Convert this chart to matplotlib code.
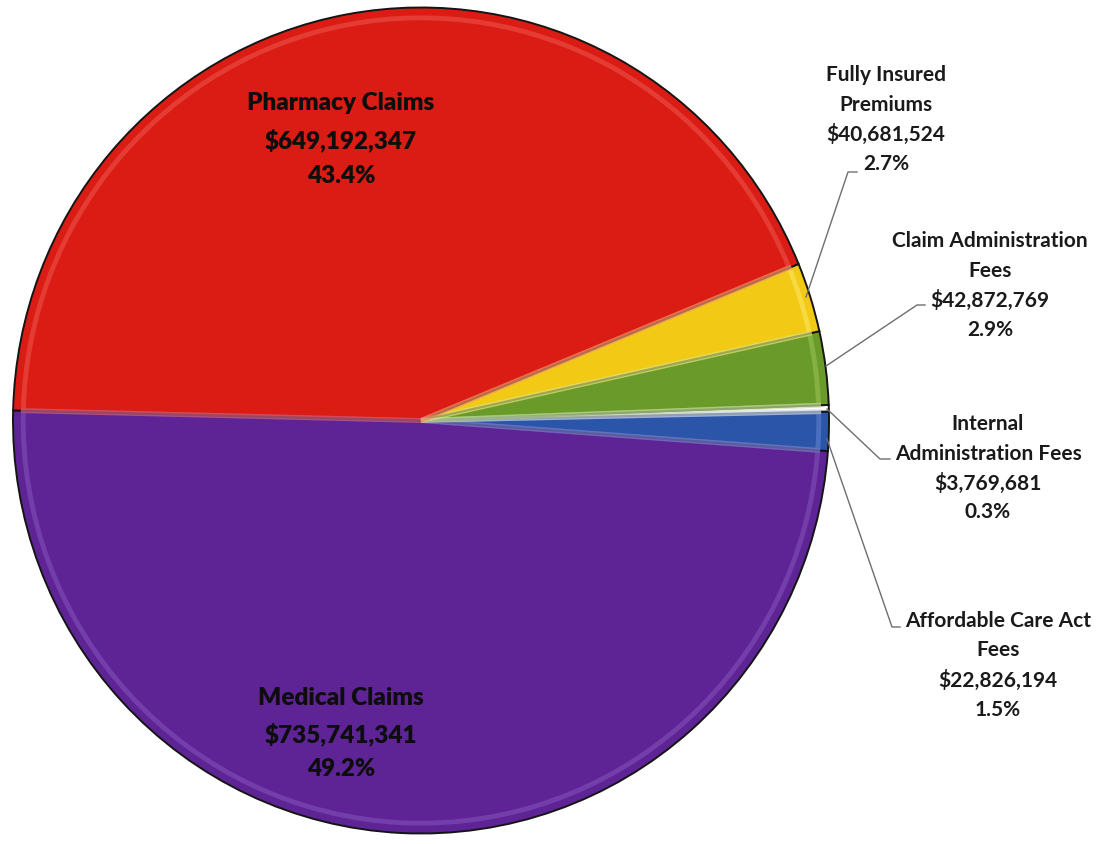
import matplotlib

matplotlib.use("Agg")

import matplotlib.pyplot as plt

# Spending breakdown (dollars), counter-clockwise from the left edge
CATEGORIES = [
    "Medical Claims",
    "Affordable Care Act\nFees",
    "Internal\nAdministration Fees",
    "Claim Administration\nFees",
    "Fully Insured\nPremiums",
    "Pharmacy Claims",
]
AMOUNTS = [735741341, 22826194, 3769681, 42872769, 40681524, 649192347]
COLORS = ["#5E2496", "#2A55A8", "#FFFFFF", "#6A9A2A", "#F2C914", "#DA1C14"]
HIGHLIGHTS = ["#8E5CC4", "#6E92D8", "#FFFFFF", "#A6CF62", "#FFF07A", "#F2625A"]

# Figure in pixel units so the pie and labels can be laid out directly
W, H = 1107, 845
CX, CY, RX, RY = 421, 421.5, 408, 413
START = 178.6


def px(x, y):
    return (x - CX) / RX, (CY - y) / RY


fig = plt.figure(figsize=(W / 100, H / 100), dpi=100)
fig.patch.set_facecolor("white")
ax = fig.add_axes([0, 0, 1, 1])

total = sum(AMOUNTS)
wedges, _ = ax.pie(
    AMOUNTS,
    colors=COLORS,
    startangle=START,
    counterclock=True,
    radius=1.0,
    wedgeprops=dict(edgecolor="#151515", linewidth=1.4),
)
# lighter bevel stroke just inside every slice
bevel, _ = ax.pie(
    AMOUNTS,
    colors=["none"] * len(AMOUNTS),
    startangle=START,
    counterclock=True,
    radius=0.975,
    wedgeprops=dict(linewidth=3.5, alpha=0.45),
)
for b, hc in zip(bevel, HIGHLIGHTS):
    b.set_edgecolor(hc)
    b.set_facecolor("none")

ax.set_aspect("auto")
ax.set_xlim(-CX / RX, (W - CX) / RX)
ax.set_ylim((CY - H) / RY, CY / RY)
ax.axis("off")


def money(v):
    return f"${v:,.0f}"


def pct(v):
    return f"{v / total * 100:.1f}%"


# labels inside the two big slices
inside = {5: (341, [103, 140, 176]), 0: (341, [698, 734, 769])}
for i, (x, ys) in inside.items():
    lines = [CATEGORIES[i], money(AMOUNTS[i]), pct(AMOUNTS[i])]
    for line, y in zip(lines, ys):
        ax.text(*px(x, y), line, ha="center", va="center", fontsize=17.5,
                fontweight="heavy", family="Lato", color="#0d0d0d")

# outside labels with leader lines
outside = {
    4: (886, 75, [(857, 173), (848, 173), (806, 298)]),
    3: (990, 241, [(925, 306), (917, 306), (826, 367)]),
    2: (988, 424, [(890, 460), (880, 460), (827, 410)]),
    1: (998, 621, [(900, 628), (892, 628), (827, 440)]),
}
for i, (x, y0, path) in outside.items():
    lines = CATEGORIES[i].split("\n") + [money(AMOUNTS[i]), pct(AMOUNTS[i])]
    for k, line in enumerate(lines):
        ax.text(*px(x, y0 + 29.5 * k), line, ha="center", va="center",
                fontsize=15, fontweight="bold", family="Lato",
                color="#1a1a1a")
    xs, ys = zip(*[px(a, b) for a, b in path])
    ax.plot(xs, ys, color="#6e6e6e", linewidth=1.0)

plt.savefig("out.png", dpi=100)
